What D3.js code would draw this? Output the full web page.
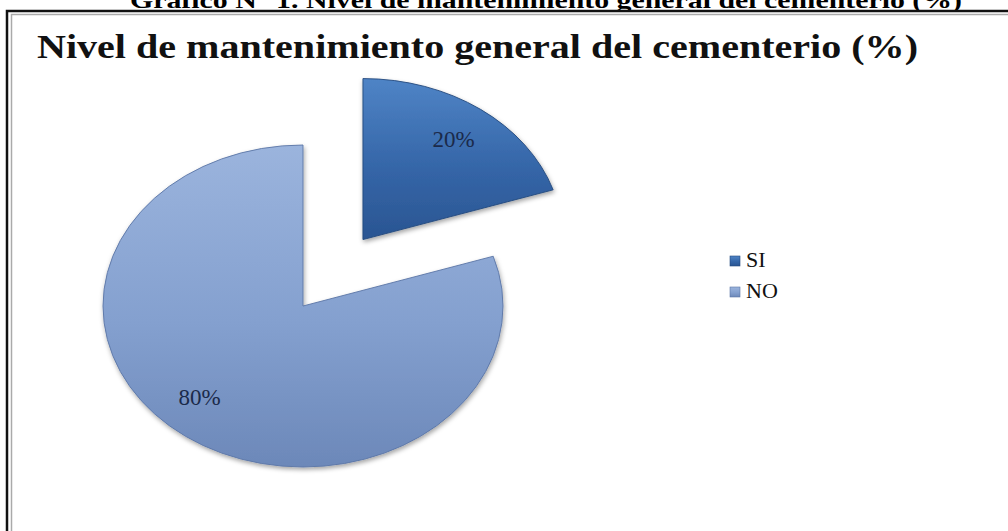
<!DOCTYPE html>
<html lang="es">
<head>
  <meta charset="UTF-8">
  <title>Nivel de mantenimiento general del cementerio</title>
  <style>
    body { margin: 0; background: #fff; }
    svg { display: block; }
    text { font-family: "Liberation Serif", "Times New Roman", serif; }
  </style>
</head>
<body>
  <svg width="1008" height="531"></svg>

  <script src="https://d3js.org/d3.v7.min.js"></script>
  <script>
    // datos
    const categorias = ["SI", "NO"];
    const valores = [20, 80];
    const etiquetas = ["20%", "80%"];
    const titulo = "Nivel de mantenimiento general del cementerio (%)";
    const leyenda = "Gráfico N° 1. Nivel de mantenimiento general del cementerio (%)";

    const svg = d3.select("svg");
    const defs = svg.append("defs");

    // degradados de cada sector
    const colores = {
      SI: ["#4f84c6", "#3566a8", "#2a5592"],
      NO: ["#9bb4dd", "#84a0cf", "#6c88b9"]
    };
    categorias.forEach(c => {
      const g = defs.append("linearGradient")
        .attr("id", "grad-" + c)
        .attr("x1", 0).attr("y1", 0).attr("x2", 0).attr("y2", 1);
      g.append("stop").attr("offset", "0%").attr("stop-color", colores[c][0]);
      g.append("stop").attr("offset", "55%").attr("stop-color", colores[c][1]);
      g.append("stop").attr("offset", "100%").attr("stop-color", colores[c][2]);
    });

    const sombra = defs.append("filter").attr("id", "sombra")
      .attr("x", "-10%").attr("y", "-10%").attr("width", "130%").attr("height", "130%");
    sombra.append("feDropShadow")
      .attr("dx", 1).attr("dy", 3).attr("stdDeviation", 2.5)
      .attr("flood-color", "#000").attr("flood-opacity", 0.35);

    // pie de figura (cortado arriba, como en la imagen)
    svg.append("text")
      .attr("x", 546).attr("y", 8)
      .attr("text-anchor", "middle")
      .attr("font-size", 24).attr("font-weight", "bold")
      .attr("textLength", 832).attr("lengthAdjust", "spacingAndGlyphs")
      .text(leyenda);

    // marco doble
    svg.append("rect")
      .attr("x", 7).attr("y", 11).attr("width", 1010).attr("height", 530)
      .attr("fill", "#fff").attr("stroke", "#111").attr("stroke-width", 2.5);
    svg.append("rect")
      .attr("x", 11.5).attr("y", 14.5).attr("width", 1010).attr("height", 530)
      .attr("fill", "none").attr("stroke", "#aaa").attr("stroke-width", 1.5);

    // título
    svg.append("text")
      .attr("x", 37).attr("y", 58)
      .attr("font-size", 33).attr("font-weight", "bold")
      .attr("fill", "#111")
      .attr("textLength", 881).attr("lengthAdjust", "spacingAndGlyphs")
      .text(titulo);

    // pastel (elipse por perspectiva)
    const r = 200;
    const cx = 303, cy = 306, ry = 161;
    const pie = d3.pie().sort(null).startAngle(0).endAngle(2 * Math.PI);
    const arcos = pie(valores);
    const arc = d3.arc().innerRadius(0).outerRadius(r);

    const g = svg.append("g")
      .attr("transform", `translate(${cx},${cy}) scale(1,${ry / r})`);

    const separar = [0.51 * r, 0];

    g.selectAll("path")
      .data(arcos)
      .join("path")
      .attr("d", arc)
      .attr("transform", (d, i) => {
        const a = (d.startAngle + d.endAngle) / 2;
        const k = separar[i];
        return `translate(${Math.sin(a) * k},${-Math.cos(a) * k})`;
      })
      .attr("fill", (d, i) => `url(#grad-${categorias[i]})`)
      .attr("stroke", (d, i) => i === 0 ? "#24497d" : "#5b76a6")
      .attr("stroke-width", 1)
      .attr("stroke-linejoin", "round")
      .attr("filter", "url(#sombra)");

    // etiquetas de porcentaje (fracción del radio en x e y)
    const posEtiq = [[1.28, 1.28], [0.88, 0.70]];
    svg.selectAll("text.etq")
      .data(arcos)
      .join("text")
      .attr("class", "etq")
      .attr("x", (d, i) => {
        const a = (d.startAngle + d.endAngle) / 2;
        return cx + Math.sin(a) * r * posEtiq[i][0];
      })
      .attr("y", (d, i) => {
        const a = (d.startAngle + d.endAngle) / 2;
        return cy - Math.cos(a) * ry * posEtiq[i][1] + 8;
      })
      .attr("text-anchor", "middle")
      .attr("font-size", 23)
      .attr("fill", "#1b2a4a")
      .text((d, i) => etiquetas[i]);

    // leyenda
    const ley = svg.append("g").attr("transform", "translate(730,256)");
    const item = ley.selectAll("g")
      .data(categorias)
      .join("g")
      .attr("transform", (d, i) => `translate(0,${i * 31})`);
    item.append("rect")
      .attr("width", 10).attr("height", 10)
      .attr("fill", d => `url(#grad-${d})`)
      .attr("stroke", d => d === "SI" ? "#24497d" : "#5b76a6")
      .attr("stroke-width", 0.6);
    item.append("text")
      .attr("x", 16).attr("y", 11)
      .attr("font-size", 22)
      .attr("fill", "#111")
      .text(d => d);
  </script>
</body>
</html>
